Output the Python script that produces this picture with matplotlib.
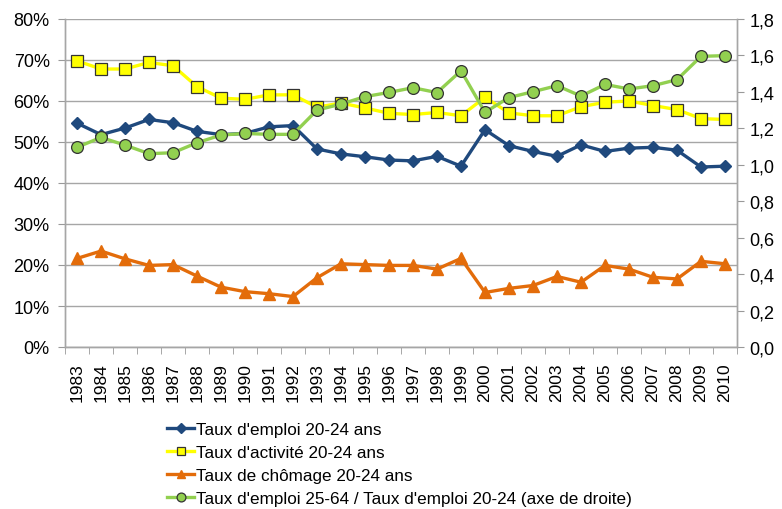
import matplotlib
matplotlib.use("Agg")
import matplotlib.pyplot as plt
from matplotlib.ticker import FixedLocator, FuncFormatter
import numpy as np

years = list(range(1983, 2011))
emploi_20_24 = [54.6, 51.8, 53.4, 55.5, 54.7, 52.6, 51.8, 52.1, 53.7, 54.0,
                48.3, 47.1, 46.4, 45.6, 45.4, 46.5, 44.1, 53.0, 49.1, 47.7,
                46.5, 49.3, 47.7, 48.5, 48.7, 48.0, 43.9, 44.1]
activite_20_24 = [69.8, 67.8, 67.8, 69.4, 68.6, 63.5, 60.7, 60.4, 61.5, 61.5,
                  58.5, 59.5, 58.3, 57.0, 56.7, 57.2, 56.4, 60.9, 57.1, 56.4,
                  56.4, 58.6, 59.7, 60.0, 58.9, 57.9, 55.7, 55.5]
chomage_20_24 = [21.6, 23.4, 21.5, 19.9, 20.1, 17.3, 14.6, 13.5, 13.0, 12.3,
                 16.9, 20.3, 20.1, 19.9, 19.9, 19.0, 21.6, 13.3, 14.3, 15.0,
                 17.2, 15.8, 19.9, 19.0, 17.0, 16.6, 20.9, 20.3]
ratio_25_64 = [1.096, 1.150, 1.108, 1.061, 1.066, 1.121, 1.163, 1.172, 1.167, 1.167,
               1.300, 1.333, 1.374, 1.397, 1.423, 1.396, 1.516, 1.288, 1.369,
               1.401, 1.434, 1.377, 1.441, 1.416, 1.434, 1.467, 1.595, 1.599]

labels = ["Taux d'emploi 20-24 ans",
          "Taux d'activité 20-24 ans",
          "Taux de chômage 20-24 ans",
          "Taux d'emploi 25-64 / Taux d'emploi 20-24 (axe de droite)"]

plt.rcParams['font.family'] = ['Liberation Sans', 'DejaVu Sans']

fig = plt.figure(figsize=(7.82, 5.10), dpi=100)
ax = fig.add_axes([65/782, 1-348/510, (737-65)/782, (348-20)/510])
ax2 = ax.twinx()

x = np.arange(len(years))
lw = 2.4
ax.plot(x, emploi_20_24, color='#1F497D', lw=lw, marker='D', ms=6.5,
        mfc='#1F497D', mec='#1F497D', label=labels[0], zorder=3)
ax.plot(x, activite_20_24, color='#FFFF00', lw=lw, marker='s', ms=8,
        mfc='#FFFF00', mec='#333333', mew=0.9, label=labels[1], zorder=3)
ax.plot(x, chomage_20_24, color='#E36C0A', lw=lw, marker='^', ms=8,
        mfc='#E36C0A', mec='#E36C0A', label=labels[2], zorder=3)
ax2.plot(x, ratio_25_64, color='#92D050', lw=lw, marker='o', ms=8.5,
         mfc='#92D050', mec='#333333', mew=0.9, label=labels[3], zorder=3)

ax.set_xlim(-0.5, len(years) - 0.5)
ax.set_ylim(0, 80)
ax2.set_ylim(0, 1.8)
ax.set_yticks(np.arange(0, 81, 10))
ax.yaxis.set_major_formatter(FuncFormatter(lambda v, p: f"{int(v)}%"))
ax2.set_yticks(np.arange(0, 1.81, 0.2))
ax2.yaxis.set_major_formatter(FuncFormatter(lambda v, p: f"{v:.1f}".replace('.', ',')))

ax.set_xticks(x)
ax.set_xticklabels([str(y) for y in years], rotation=90)
ax.xaxis.set_minor_locator(FixedLocator(np.arange(-0.5, len(years), 1)))
ax.tick_params(axis='x', which='major', length=0, pad=11, labelsize=12.5)
ax.tick_params(axis='x', which='minor', length=5, color='#999999', direction='out')
ax.tick_params(axis='y', length=5, color='#999999', labelsize=13, pad=6)
ax2.tick_params(axis='y', length=5, color='#999999', labelsize=13, pad=4)

ax.grid(axis='y', color='#A6A6A6', lw=1.0)
ax.set_axisbelow(True)
for s in ['top']:
    ax.spines[s].set_visible(False)
    ax2.spines[s].set_visible(False)
for a in (ax, ax2):
    for s in ['left', 'right', 'bottom']:
        a.spines[s].set_color('#A6A6A6')
        a.spines[s].set_linewidth(1.0)

h1, l1 = ax.get_legend_handles_labels()
h2, l2 = ax2.get_legend_handles_labels()
leg = fig.legend(h1 + h2, l1 + l2, loc='upper left',
                 bbox_to_anchor=(160/782, 1-416/510), frameon=False,
                 fontsize=12.3, handlelength=1.6, handletextpad=0.1,
                 labelspacing=0.47, borderaxespad=0, markerscale=0.75)

fig.savefig("out.png", dpi=100)
